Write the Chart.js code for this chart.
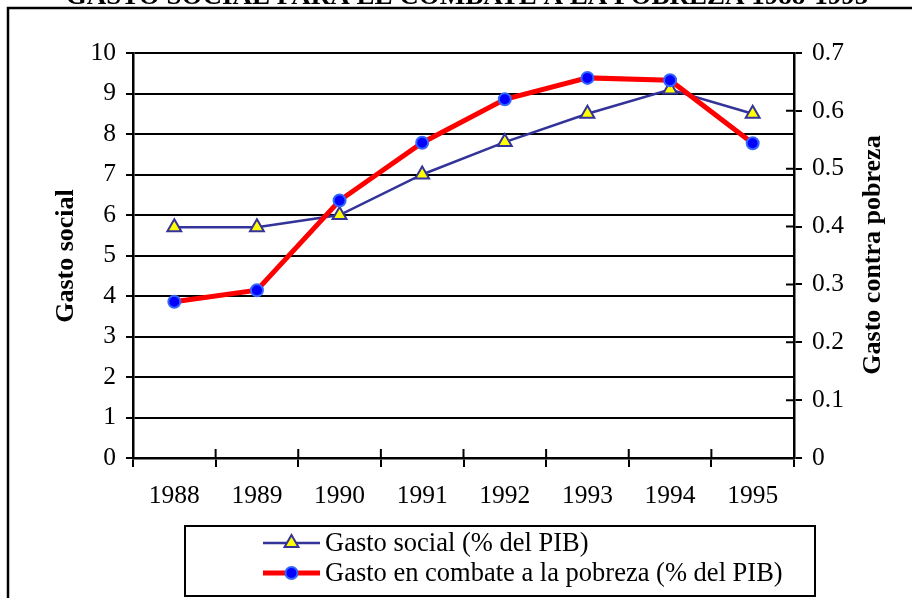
<!DOCTYPE html>
<html lang="es">
<head>
<meta charset="utf-8">
<title>Gasto social para el combate a la pobreza</title>
<script src="https://cdn.jsdelivr.net/npm/chart.js@4/dist/chart.umd.min.js"></script>
<style>
  html, body { margin: 0; padding: 0; background: #fff; overflow: hidden; }
  #chart { display: block; }
</style>
</head>
<body>
<canvas id="chart" width="912" height="598"></canvas>
<script>
// ------------------------- Data -------------------------
const years = ['1988', '1989', '1990', '1991', '1992', '1993', '1994', '1995'];
const gastoSocial = [5.7, 5.7, 6.0, 7.0, 7.8, 8.5, 9.1, 8.5];          // left axis
const gastoPobreza = [0.27, 0.29, 0.445, 0.545, 0.62, 0.657, 0.653, 0.544]; // right axis

const leftMin = 0, leftMax = 10, leftStep = 1;
const rightMin = 0, rightMax = 0.7, rightStep = 0.1;

const titleText = 'GASTO SOCIAL PARA EL COMBATE A LA POBREZA 1988-1995';
const leftTitle = 'Gasto social';
const rightTitle = 'Gasto contra pobreza';
const socialLabel = 'Gasto social (% del PIB)';
const pobrezaLabel = 'Gasto en combate a la pobreza (% del PIB)';

const SERIF = "'Liberation Serif', 'Times New Roman', serif";

// ------------------------- Decorations plugin -------------------------
// frame, clipped title, axis titles, inner tick marks and the boxed legend
const decorations = {
  id: 'decorations',
  beforeDraw(chart){
    const c = chart.ctx;
    c.save();
    c.fillStyle = '#fff';
    c.fillRect(0, 0, chart.width, chart.height);
    c.strokeStyle = '#000';
    c.lineWidth = 2.5;
    c.strokeRect(8, 8, 1000, 1000);
    c.fillStyle = '#000';
    c.font = 'bold 27px ' + SERIF;
    c.textAlign = 'center';
    c.textBaseline = 'alphabetic';
    c.fillText(titleText, 467, 4);
    c.restore();
  },
  afterDraw(chart){
    const c = chart.ctx;
    const x = chart.scales.x, y1 = chart.scales.y1;
    c.save();
    c.strokeStyle = '#000';
    c.lineWidth = 2;
    // inner half of the crossing tick marks
    c.beginPath();
    for(let i = 0; i <= years.length; i++){
      const px = x.getPixelForValue(i - 0.5);
      c.moveTo(px, x.top - 9);
      c.lineTo(px, x.top);
    }
    y1.ticks.forEach(t => {
      const py = y1.getPixelForValue(t.value);
      c.moveTo(y1.left - 8, py);
      c.lineTo(y1.left, py);
    });
    c.stroke();

    // axis titles (both read bottom to top)
    c.fillStyle = '#000';
    c.font = 'bold 26px ' + SERIF;
    c.textAlign = 'center';
    c.textBaseline = 'alphabetic';
    c.save(); c.translate(73, 256); c.rotate(-Math.PI/2); c.fillText(leftTitle, 0, 0); c.restore();
    c.save(); c.translate(880, 255); c.rotate(-Math.PI/2); c.fillText(rightTitle, 0, 0); c.restore();

    // legend box
    c.lineWidth = 2;
    c.strokeRect(185, 526, 630, 70);
    const items = [chart.data.datasets[0], chart.data.datasets[1]];
    items.forEach((ds, i) => {
      const ly = 543 + i * 30;
      c.strokeStyle = ds.borderColor;
      c.lineWidth = ds.borderWidth;
      c.beginPath(); c.moveTo(263, ly); c.lineTo(320, ly); c.stroke();
      c.fillStyle = ds.pointBackgroundColor;
      c.strokeStyle = ds.pointBorderColor;
      c.lineWidth = ds.pointBorderWidth;
      const r = ds.pointRadius, cx = 291.5;
      c.beginPath();
      if(ds.pointStyle === 'triangle'){
        c.moveTo(cx, ly - r);
        c.lineTo(cx + r * Math.sqrt(3) / 2, ly + r / 2);
        c.lineTo(cx - r * Math.sqrt(3) / 2, ly + r / 2);
        c.closePath();
      } else {
        c.arc(cx, ly, r, 0, Math.PI * 2);
      }
      c.fill(); c.stroke();
      c.fillStyle = '#000';
      c.font = '26.5px ' + SERIF;
      c.textAlign = 'left';
      c.textBaseline = 'middle';
      c.fillText(ds.label, 325, ly + 1);
    });
    c.restore();
  }
};

// ------------------------- Chart -------------------------
const ctx = document.getElementById('chart').getContext('2d');
const chart = new Chart(ctx, {
  type: 'line',
  data: {
    labels: years,
    datasets: [{
      label: socialLabel,
      data: gastoSocial,
      yAxisID: 'y',
      order: 1,
      borderColor: '#333399',
      borderWidth: 2.5,
      pointStyle: 'triangle',
      pointRadius: 8,
      pointBackgroundColor: '#FFFF00',
      pointBorderColor: '#333399',
      pointBorderWidth: 2,
      tension: 0
    }, {
      label: pobrezaLabel,
      data: gastoPobreza,
      yAxisID: 'y1',
      order: 0,
      borderColor: '#FF0000',
      borderWidth: 5,
      pointStyle: 'circle',
      pointRadius: 6,
      pointBackgroundColor: '#0000FF',
      pointBorderColor: '#3366FF',
      pointBorderWidth: 2,
      tension: 0
    }]
  },
  options: {
    responsive: false,
    devicePixelRatio: 1,
    animation: false,
    layout: { padding: { top: 53, bottom: 0, left: 0, right: 0 } },
    plugins: {
      legend: { display: false },
      title: { display: false },
      tooltip: { enabled: false }
    },
    scales: {
      x: {
        offset: true,
        grid: { offset: true, drawOnChartArea: false, color: '#000', lineWidth: 2, tickLength: 9 },
        border: { color: '#000', width: 2.5 },
        ticks: { color: '#000', font: { family: SERIF, size: 25.5 }, padding: 14, maxRotation: 0 },
        afterFit(scale){ scale.height = 140; }
      },
      y: {
        position: 'left',
        min: leftMin, max: leftMax,
        grid: { color: '#000', lineWidth: 2, tickLength: 7 },
        border: { color: '#000', width: 2.5 },
        ticks: { stepSize: leftStep, color: '#000', font: { family: SERIF, size: 25.5 }, padding: 10 },
        afterFit(scale){ scale.width = 133; }
      },
      y1: {
        position: 'right',
        min: rightMin, max: rightMax,
        grid: { drawOnChartArea: false, color: '#000', lineWidth: 2, tickLength: 8 },
        border: { color: '#000', width: 2.5 },
        ticks: {
          stepSize: rightStep, color: '#000', font: { family: SERIF, size: 25.5 }, padding: 10,
          callback: v => v === 0 ? '0' : Number(v).toFixed(1)
        },
        afterFit(scale){ scale.width = 118; }
      }
    }
  },
  plugins: [decorations]
});
</script>
</body>
</html>
